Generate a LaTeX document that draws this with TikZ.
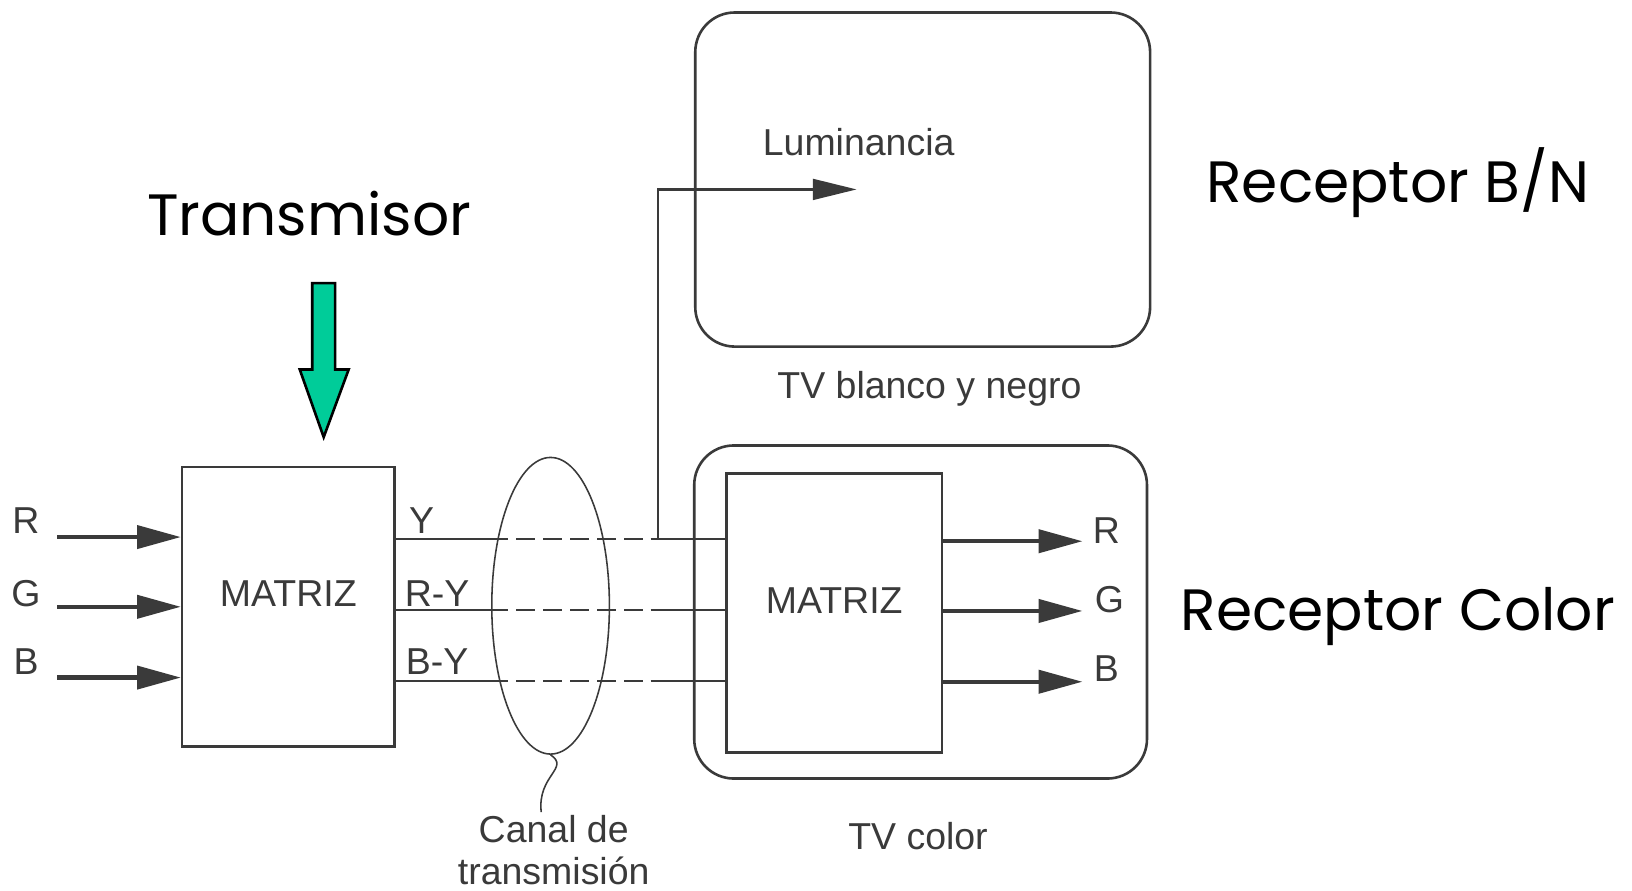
\documentclass[tikz,border=0pt]{standalone}
\usepackage{fontspec}
\setmainfont{Liberation Sans}
\newfontfamily\manoalzada{Poppins}
\usetikzlibrary{arrows.meta,shapes.geometric}
\definecolor{tinta}{HTML}{3A3A3A}
\definecolor{verdeflecha}{HTML}{00CC99}

\begin{document}
\begin{tikzpicture}[
        x=1pt, y=-1pt,
        every node/.style={text=tinta, font=\fontsize{36}{40}\selectfont},
        bloque/.style={draw=tinta, line width=2.5pt, minimum width=204pt, minimum height=269pt, text height=26pt, text depth=26pt},
        caja/.style={draw=tinta, line width=2.5pt, rounded corners=38pt, minimum width=437pt, minimum height=321pt},
        flecha/.style={draw=tinta, line width=4pt, -{Triangle[length=42pt,width=22pt]}},
        senal/.style={draw=tinta, line width=2.2pt},
        tramo/.style={senal, dash pattern=on 18pt off 8pt},
        titulo/.style={text=black, font=\manoalzada\fontsize{56}{60}\selectfont}
    ]
        \fill[white] (0,0) rectangle (1568,856);
        \useasboundingbox (0,0) rectangle (1568,856);

        \node[titulo] (tx) at (297,205) {Transmisor};
        \node[titulo] (rxbn) at (1343,175) {Receptor B/N};
        \node[titulo] (rxcolor) at (1343,592) {Receptor Color};
        \draw[black, line width=2.5pt, fill=verdeflecha, line join=miter]
            (300,272) -- (322,272) -- (322,355) -- (335,355) -- (311,420) -- (288,355) -- (300,355) -- cycle;

        \node[bloque] (matrizTx) at (277,583) {MATRIZ};
        \node[caja] (tvbn) at (886.5,172.5) {};
        \node[caja, minimum width=435pt, minimum height=320pt] (tvcolor) at (884.5,588) {};
        \node[bloque, minimum width=207pt, minimum height=268pt] (matrizRx) at (801.5,589) {MATRIZ};
        \node[draw=tinta, line width=1.5pt, ellipse, minimum width=113pt, minimum height=285pt] (canal) at (529,582) {};

        \node (inR) at (25,500) {R};
        \node (inG) at (25,570) {G};
        \node (inB) at (25,636) {B};
        \node (sY) at (405,500) {Y};
        \node (sRY) at (420,570) {R-Y};
        \node (sBY) at (420,636) {B-Y};
        \node (outR) at (1063,510) {R};
        \node (outG) at (1066,576) {G};
        \node (outB) at (1063,642) {B};
        \node (lumin) at (825,137) {Luminancia};
        \node (tvbnTxt) at (893,374) {TV blanco y negro};
        \node (tvcolorTxt) at (882,803) {TV color};
        \node[align=center] (canalTxt) at (532,817) {Canal de\\transmisión};

        \coordinate (eR) at (55,516);
        \coordinate (eG) at (55,583);
        \coordinate (eB) at (55,651);
        \draw[flecha] (eR) -- (eR -| matrizTx.west);
        \draw[flecha] (eG) -- (eG -| matrizTx.west);
        \draw[flecha] (eB) -- (eB -| matrizTx.west);

        \coordinate (yA) at (470,518);
        \coordinate (yB) at (625,518);
        \coordinate (ryA) at (470,586);
        \coordinate (ryB) at (625,586);
        \coordinate (byA) at (470,654);
        \coordinate (byB) at (625,654);
        \draw[senal] (matrizTx.east |- yA) -- (yA);
        \draw[tramo] (yA) -- (yB);
        \draw[senal] (yB) -- (yB -| matrizRx.west);
        \draw[senal] (matrizTx.east |- ryA) -- (ryA);
        \draw[tramo] (ryA) -- (ryB);
        \draw[senal] (ryB) -- (ryB -| matrizRx.west);
        \draw[senal] (matrizTx.east |- byA) -- (byA);
        \draw[tramo] (byA) -- (byB);
        \draw[senal] (byB) -- (byB -| matrizRx.west);

        \coordinate (deriv) at (632,518);
        \coordinate (lum) at (823,182);
        \draw[senal, -{Triangle[length=42pt,width=20pt]}] (deriv) -- (deriv |- lum) -- (lum);

        \coordinate (sR) at (1040,520);
        \coordinate (sG) at (1040,587);
        \coordinate (sB) at (1040,655);
        \draw[flecha] (sR -| matrizRx.east) -- (sR);
        \draw[flecha] (sG -| matrizRx.east) -- (sG);
        \draw[flecha] (sB -| matrizRx.east) -- (sB);

        \draw[tinta, line width=1.5pt] (canal.south) .. controls (548,738) and (516,745) .. ([xshift=-12pt]canalTxt.north);
    \end{tikzpicture}
\end{document}
